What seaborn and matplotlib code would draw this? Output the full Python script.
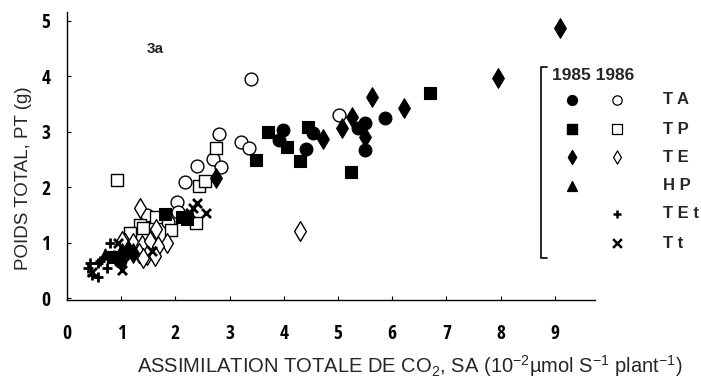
import matplotlib
matplotlib.use("Agg")
import matplotlib.pyplot as plt
import seaborn as sns
import pandas as pd

# ---------------- data ----------------
# 1985 (filled markers)
ta85_x = [3.99, 3.91, 4.54, 4.41, 5.37, 5.50, 5.49, 5.87, 0.98]
ta85_y = [3.03, 2.85, 2.97, 2.68, 3.07, 3.16, 2.67, 3.24, 0.67]
tp85_x = [3.70, 4.05, 4.44, 4.30, 3.49, 5.23, 6.70, 1.81, 2.12, 2.21, 0.85]
tp85_y = [3.00, 2.72, 3.09, 2.48, 2.49, 2.28, 3.69, 1.52, 1.47, 1.43, 0.74]
te85_x = [2.74, 4.73, 5.07, 5.25, 5.49, 5.62, 6.22, 7.95, 9.10, 1.13, 1.22, 1.01]
te85_y = [2.16, 2.86, 3.06, 3.26, 2.90, 3.62, 3.42, 3.97, 4.87, 0.87, 0.81, 0.81]
hp85_x = [0.70]
hp85_y = [0.79]
# 1986 (open markers)
ta86_x = [3.39, 5.02, 2.80, 3.21, 3.36, 2.69, 2.85, 2.39, 2.18, 2.02, 1.48, 1.87, 2.05, 1.01]
ta86_y = [3.95, 3.30, 2.96, 2.82, 2.71, 2.50, 2.37, 2.38, 2.09, 1.74, 1.50, 1.38, 1.56, 0.75]
tp86_x = [2.74, 2.44, 2.55, 2.38, 1.65, 1.35, 1.92, 1.16, 1.41, 0.92]
tp86_y = [2.71, 2.02, 2.11, 1.35, 1.46, 1.32, 1.23, 1.17, 1.26, 2.13]
te86_x = [4.30, 1.35, 1.64, 1.85, 1.07, 1.22, 1.38, 1.53, 1.68, 1.32, 1.47, 1.62, 1.41, 1.02]
te86_y = [1.21, 1.62, 1.24, 1.00, 0.99, 0.99, 0.96, 1.02, 0.93, 0.81, 0.78, 0.75, 0.72, 1.03]
tet86_x = [0.79, 0.87, 0.76, 0.61, 0.42, 0.58, 0.73, 0.39, 0.46, 0.58]
tet86_y = [0.99, 0.78, 0.72, 0.67, 0.63, 0.63, 0.54, 0.54, 0.42, 0.38]
tt86_x = [2.39, 2.33, 2.56, 2.27, 1.56, 1.01, 0.46, 0.95]
tt86_y = [1.72, 1.63, 1.54, 1.53, 0.84, 0.51, 0.47, 0.99]

x_ticks = [0, 1, 2, 3, 4, 5, 6, 7, 8, 9]
y_ticks = [0, 1, 2, 3, 4, 5]
legend_rows = ["T A", "T P", "T E", "H P", "T E t", "T t"]

# ---------------- plotting ----------------
sns.set_style("ticks")
plt.rcParams["font.family"] = ["Liberation Sans", "DejaVu Sans"]
plt.rcParams["mathtext.fontset"] = "custom"
plt.rcParams["mathtext.rm"] = "Liberation Sans"
plt.rcParams["mathtext.it"] = "Liberation Sans:italic"

W, H = 701, 386
fig = plt.figure(figsize=(W / 100, H / 100), dpi=100)
ax = fig.add_axes([67 / W, 86 / H, (595 - 67) / W, (300 - 12) / H])

groups = [
    (ta85_x, ta85_y, "o", True, 85),
    (tp85_x, tp85_y, "s", True, 65),
    (te85_x, te85_y, "d", True, 100),
    (hp85_x, hp85_y, "^", True, 65),
    (ta86_x, ta86_y, "o", False, 85),
    (tp86_x, tp86_y, "s", False, 75),
    (te86_x, te86_y, "d", False, 100),
    (tet86_x, tet86_y, "+", None, 60),
    (tt86_x, tt86_y, "x", None, 42),
]
for xs, ys, m, filled, s in groups:
    df = pd.DataFrame({"x": xs, "y": ys})
    if filled is True:
        sns.scatterplot(data=df, x="x", y="y", marker=m, s=s, color="black",
                        edgecolor="black", linewidth=0.8, ax=ax, zorder=3)
    elif filled is False:
        sns.scatterplot(data=df, x="x", y="y", marker=m, s=s, color="white",
                        edgecolor="black", linewidth=1.0, ax=ax, zorder=2)
    else:
        sns.scatterplot(data=df, x="x", y="y", marker=m, s=s, color="black",
                        linewidth=2.0, ax=ax, zorder=3)

ax.set_xlim(0, 9.74)
ax.set_ylim(-0.036, 5.16)
ax.set_xticks(x_ticks)
ax.set_yticks(y_ticks)
tick_font = dict(family=["Open Sans Condensed", "Roboto Condensed", "Liberation Sans Narrow",
                         "Liberation Sans"], weight="bold", size=14)
ax.set_xticklabels([str(v) for v in x_ticks], fontdict=tick_font)
ax.set_yticklabels([str(v) for v in y_ticks], fontdict=tick_font)
ax.tick_params(axis="both", direction="in", length=3, width=0.8, colors="black")
ax.tick_params(axis="x", pad=17)
ax.tick_params(axis="y", pad=12)
ax.set_xlabel("")
ax.set_ylabel("")
sns.despine(ax=ax)
for sp in ("left", "bottom"):
    ax.spines[sp].set_linewidth(1.0)
    ax.spines[sp].set_color("black")

ax.text(1.62, 4.5, "3a", fontsize=11, fontweight="bold", ha="center", va="center")

fig.text(409.5 / W, 1 - 366 / H,
         r"ASSIMILATION TOTALE DE CO$_2$, SA (10$^{-2}$µmol S$^{-1}$ plant$^{-1}$)",
         ha="center", va="center", fontsize=14.5)
fig.text(24 / W, 1 - 178 / H, "POIDS TOTAL, PT (g)", rotation=90,
         ha="center", va="center", fontsize=13.5)

# ---------------- custom bracket legend ----------------
lax = fig.add_axes([530 / W, 1 - 270 / H, 170 / W, 215 / H])
lax.set_xlim(530, 700)
lax.set_ylim(270, 55)
lax.axis("off")
lax.plot([547, 541, 541, 547], [67, 67, 258, 258], color="black", lw=1.2)
lax.text(552, 76, "1985 1986", fontsize=12.5, fontweight="bold", va="center", ha="left")
row_y = [100, 129, 157, 186, 214, 243]
filled_m = ["o", "s", "d", "^", None, None]
open_m = ["o", "s", "d", None, "+", "x"]
for yy, lab, fm, om in zip(row_y, legend_rows, filled_m, open_m):
    if fm:
        lax.scatter([572], [yy], marker=fm, s=50, color="black")
    if om in ("o", "s", "d"):
        lax.scatter([617], [yy], marker=om, s=45, facecolor="white", edgecolor="black", linewidth=0.9)
    elif om:
        lax.scatter([617], [yy], marker=om, s=40, color="black", linewidth=1.8)
    lax.text(663, yy, lab, fontsize=12, fontweight="bold", va="center", ha="left")

fig.savefig("out.png", dpi=100)
